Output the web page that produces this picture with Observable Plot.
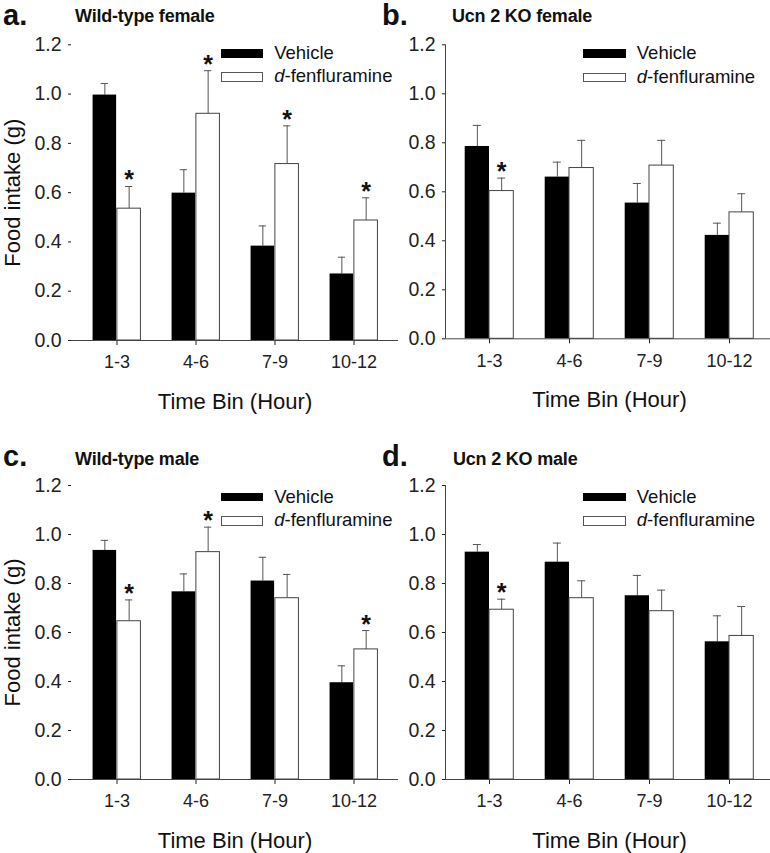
<!DOCTYPE html>
<html>
<head>
<meta charset="utf-8">
<script src="https://cdn.jsdelivr.net/npm/d3@7"></script>
<script src="https://cdn.jsdelivr.net/npm/@observablehq/plot@0.6"></script>
<style>
  html, body { margin: 0; padding: 0; background: #fff; overflow: hidden; }
  #root { position: relative; width: 770px; height: 853px; overflow: hidden; font-family: "Liberation Sans", Arial, Helvetica, sans-serif; color: #111; }
  .abs { position: absolute; white-space: nowrap; line-height: 1; }
  .letter { font-size: 29px; font-weight: bold; }
  .ptitle { font-size: 18px; font-weight: bold; letter-spacing: -0.2px; }
  .leg { font-size: 18.5px; }
  .sw { position: absolute; box-sizing: border-box; }
  #root svg g[aria-label^="y-axis"] text { font-size: 19.5px; }
</style>
</head>
<body>
<div id="root"></div>
<script>
// ---------- data ----------
const bins = ["1-3", "4-6", "7-9", "10-12"];
const groups = ["Vehicle", "d-fenfluramine"];
const panelLetters = ["a.", "b.", "c.", "d."];
const panelTitles = ["Wild-type female", "Ucn 2 KO female", "Wild-type male", "Ucn 2 KO male"];
const yTicks = [0, 0.2, 0.4, 0.6, 0.8, 1.0, 1.2];
const xTitle = "Time Bin (Hour)";
const yTitle = "Food intake (g)";

// a. Wild-type female
const wtFemaleVehicle   = [0.996, 0.598, 0.383, 0.270];
const wtFemaleVehicleSE = [0.047, 0.095, 0.082, 0.068];
const wtFemaleFen       = [0.535, 0.920, 0.716, 0.487];
const wtFemaleFenSE     = [0.090, 0.175, 0.155, 0.092];
const wtFemaleSig       = [true, true, true, true];

// b. Ucn 2 KO female
const koFemaleVehicle   = [0.785, 0.660, 0.554, 0.422];
const koFemaleVehicleSE = [0.086, 0.061, 0.080, 0.050];
const koFemaleFen       = [0.603, 0.697, 0.707, 0.516];
const koFemaleFenSE     = [0.053, 0.113, 0.103, 0.076];
const koFemaleSig       = [true, false, false, false];

// c. Wild-type male
const wtMaleVehicle   = [0.935, 0.766, 0.810, 0.395];
const wtMaleVehicleSE = [0.041, 0.073, 0.097, 0.069];
const wtMaleFen       = [0.646, 0.928, 0.740, 0.531];
const wtMaleFenSE     = [0.087, 0.102, 0.097, 0.077];
const wtMaleSig       = [true, true, false, true];

// d. Ucn 2 KO male
const koMaleVehicle   = [0.928, 0.887, 0.750, 0.562];
const koMaleVehicleSE = [0.031, 0.078, 0.083, 0.106];
const koMaleFen       = [0.693, 0.740, 0.687, 0.586];
const koMaleFenSE     = [0.043, 0.071, 0.086, 0.120];
const koMaleSig       = [true, false, false, false];

// ---------- layout ----------
const root = document.getElementById("root");
const BW = 24.3;      // bar width
const PO = 0.05;      // outer band padding

function panel(p) {
  const n = bins.length;
  const step = (p.width - p.ml - p.mr) / (n + 2 * PO);
  const half = step / 2;
  const veh = bins.map((bin, i) => ({bin, mean: p.veh[i], top: p.veh[i] + p.vehSE[i]}));
  const fen = bins.map((bin, i) => ({bin, mean: p.fen[i], top: p.fen[i] + p.fenSE[i], sig: p.sig[i]}));
  const errColor = "#555";
  const marks = [
    Plot.ruleX(veh, {x: "bin", y1: "mean", y2: "top", dx: -BW / 2, stroke: errColor, strokeWidth: 1}),
    Plot.tickY(veh, {x: "bin", y: "top", dx: -BW / 2, insetLeft: half - 4, insetRight: half - 4, stroke: errColor, strokeWidth: 1}),
    Plot.ruleX(fen, {x: "bin", y1: "mean", y2: "top", dx: BW / 2, stroke: errColor, strokeWidth: 1}),
    Plot.tickY(fen, {x: "bin", y: "top", dx: BW / 2, insetLeft: half - 4, insetRight: half - 4, stroke: errColor, strokeWidth: 1}),
    Plot.barY(veh, {x: "bin", y: "mean", fill: "#000", insetLeft: half - BW, insetRight: half}),
    Plot.barY(fen, {x: "bin", y: "mean", fill: "#fff", stroke: "#444", strokeWidth: 1, insetLeft: half, insetRight: half - BW}),
    Plot.text(fen.filter(d => d.sig), {x: "bin", y: "top", text: () => "*", dx: BW / 2, dy: 2, lineAnchor: "bottom", fontSize: 25, fontWeight: "bold", fill: "#111"}),
    Plot.ruleY([0], {stroke: "#444", strokeWidth: 1}),
    Plot.text([xTitle], {text: d => d, frameAnchor: "bottom", dy: 68, lineAnchor: "bottom", fontSize: 22, fill: "#111"})
  ];
  if (p.yLine) {
    marks.push(Plot.ruleX([bins[0]], {x: d => d, y1: () => yTicks[0], y2: () => yTicks[yTicks.length - 1], dx: -(half + PO * step), stroke: "#444", strokeWidth: 1}));
  }
  if (p.yTitle) {
    marks.push(Plot.text([yTitle], {text: d => d, frameAnchor: "left", rotate: -90, dx: p.yTitleDx, textAnchor: "middle", lineAnchor: "middle", fontSize: 22, fill: "#111"}));
  }
  const svg = Plot.plot({
    width: p.width,
    height: p.height,
    marginTop: p.mt,
    marginBottom: p.mb,
    marginLeft: p.ml,
    marginRight: p.mr,
    style: {background: "transparent", overflow: "visible", fontFamily: "'Liberation Sans', Arial, sans-serif", fontSize: "18px", color: "#222", maxWidth: "none"},
    x: {domain: bins, paddingInner: 0, paddingOuter: PO, tickSize: 5, tickPadding: 10, label: null},
    y: {domain: [yTicks[0], yTicks[yTicks.length - 1]], ticks: yTicks, tickFormat: d3.format(".1f"), tickSize: 3, tickPadding: 7, label: null},
    marks
  });
  svg.style.position = "absolute";
  svg.style.left = p.left + "px";
  svg.style.top = p.top + "px";
  root.appendChild(svg);

  // panel letter & title
  addText(panelLetters[p.idx], "letter", p.letterX, p.letterBase, 29);
  addText(panelTitles[p.idx], "ptitle", p.titleX, p.titleBase, 18);

  // legend
  const lx = p.legX;
  addSwatch(lx, p.legY1, 42.6, 8.5, "#000", "none");
  addSwatch(lx, p.legY2, 42.6, 9.5, "#fff", "1px solid #555");
  addText(groups[0], "leg", lx + 53.5, p.legY1 + 10.5, 18.5);
  const [ital, rest] = [groups[1].slice(0, 1), groups[1].slice(1)];
  addText(`<i>${ital}</i>${rest}`, "leg", lx + 53.5, p.legY2 + 11, 18.5, true);
}

function addText(txt, cls, x, baseline, size, html) {
  const d = document.createElement("div");
  d.className = "abs " + cls;
  if (html) d.innerHTML = txt; else d.textContent = txt;
  d.style.left = x + "px";
  d.style.top = (baseline - 0.8465 * size) + "px";
  root.appendChild(d);
}
function addSwatch(x, y, w, h, fill, border) {
  const s = document.createElement("div");
  s.className = "sw";
  s.style.left = x + "px";
  s.style.top = y + "px";
  s.style.width = w + "px";
  s.style.height = h + "px";
  s.style.background = fill;
  s.style.border = border;
  root.appendChild(s);
}

panel({idx: 0, veh: wtFemaleVehicle, vehSE: wtFemaleVehicleSE, fen: wtFemaleFen, fenSE: wtFemaleFenSE, sig: wtFemaleSig,
  left: 0, top: 0, width: 400, height: 420, mt: 44.3, mb: 80, ml: 71, mr: 2, yLine: false, yTitle: true, yTitleDx: -59,
  letterX: 3, letterBase: 26, titleX: 75, titleBase: 22.7, legX: 220.7, legY1: 49, legY2: 72});
panel({idx: 1, veh: koFemaleVehicle, vehSE: koFemaleVehicleSE, fen: koFemaleFen, fenSE: koFemaleFenSE, sig: koFemaleSig,
  left: 385, top: 0, width: 390, height: 420, mt: 44.3, mb: 81.7, ml: 60, mr: 2, yLine: true, yTitle: false,
  letterX: 382, letterBase: 26, titleX: 452, titleBase: 22.7, legX: 583.3, legY1: 49, legY2: 72.5});
panel({idx: 2, veh: wtMaleVehicle, vehSE: wtMaleVehicleSE, fen: wtMaleFen, fenSE: wtMaleFenSE, sig: wtMaleSig,
  left: 0, top: 420, width: 400, height: 433, mt: 65, mb: 74, ml: 71, mr: 2, yLine: false, yTitle: true, yTitleDx: -59,
  letterX: 3, letterBase: 467, titleX: 75, titleBase: 465, legX: 220.7, legY1: 492.7, legY2: 516});
panel({idx: 3, veh: koMaleVehicle, vehSE: koMaleVehicleSE, fen: koMaleFen, fenSE: koMaleFenSE, sig: koMaleSig,
  left: 385, top: 420, width: 390, height: 433, mt: 65, mb: 74, ml: 60, mr: 2, yLine: true, yTitle: false,
  letterX: 382, letterBase: 467, titleX: 453, titleBase: 465, legX: 583.3, legY1: 492.7, legY2: 516});
</script>
</body>
</html>
